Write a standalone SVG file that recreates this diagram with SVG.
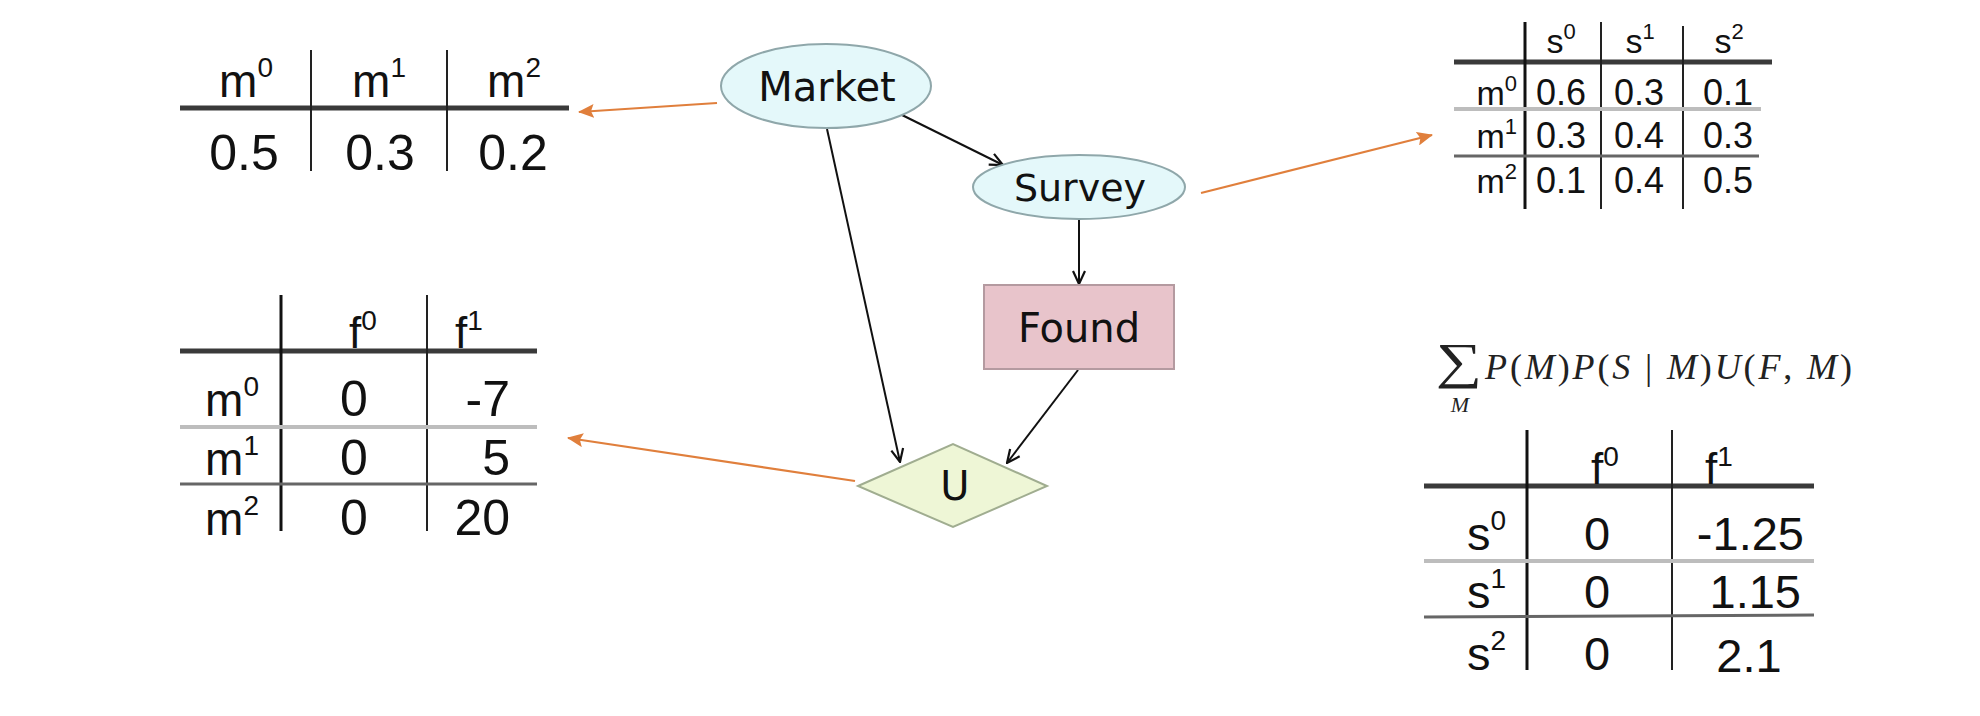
<svg xmlns="http://www.w3.org/2000/svg" width="1980" height="716" viewBox="0 0 1980 716">
<style>
.t{font-family:"Liberation Sans","DejaVu Sans",sans-serif;fill:#111}
.lbl{font-family:"DejaVu Sans","Liberation Sans",sans-serif;fill:#111}
.m{font-family:"Liberation Serif","DejaVu Serif",serif;fill:#222}
.it{font-style:italic}
.thick{stroke:#3a3a3a;stroke-width:5}
.vb{stroke:#111;stroke-width:3}
.vt{stroke:#222;stroke-width:2}
.lg{stroke:#bdbdbd;stroke-width:4}
.dg{stroke:#666;stroke-width:3}
.edge{stroke:#111;stroke-width:2;fill:none;marker-end:url(#open)}
.link{stroke:#e07f3c;stroke-width:2.2;fill:none;marker-end:url(#tri)}
</style>
<defs>
<marker id="open" markerUnits="userSpaceOnUse" markerWidth="16" markerHeight="16" viewBox="0 0 16 16" refX="15" refY="8" orient="auto">
<path d="M2,2 L15,8 L2,14" fill="none" stroke="#111" stroke-width="2.2"/>
</marker>
<marker id="tri" markerUnits="userSpaceOnUse" markerWidth="16" markerHeight="14" viewBox="0 0 16 14" refX="15" refY="7" orient="auto">
<path d="M0,0 L16,7 L0,14 L3,7 z" fill="#e07f3c"/>
</marker>
</defs>
<rect width="1980" height="716" fill="#fff"/>

<g id="table-market">
<line class="thick" x1="180" y1="108" x2="569" y2="108" stroke-width="4"/>
<line class="vt" x1="311" y1="50" x2="311" y2="171"/>
<line class="vt" x1="447" y1="50" x2="447" y2="171"/>
<g class="t" font-size="46" text-anchor="middle">
<text x="246" y="97">m<tspan dy="-20" font-size="28">0</tspan></text>
<text x="379" y="97">m<tspan dy="-20" font-size="28">1</tspan></text>
<text x="514" y="97">m<tspan dy="-20" font-size="28">2</tspan></text>
</g>
<g class="t" font-size="50" text-anchor="middle">
<text x="244" y="170">0.5</text>
<text x="380" y="170">0.3</text>
<text x="513" y="170">0.2</text>
</g>
</g>

<g id="table-utility">
<line class="thick" x1="180" y1="351" x2="537" y2="351"/>
<line class="vb" x1="281" y1="295" x2="281" y2="531"/>
<line class="vt" x1="427" y1="295" x2="427" y2="531"/>
<line class="lg" x1="180" y1="427" x2="537" y2="427"/>
<line class="dg" x1="180" y1="484" x2="537" y2="484"/>
<g class="t" font-size="44">
<text x="363" y="348" text-anchor="middle">f<tspan dy="-18" font-size="28">0</tspan></text>
<text x="455" y="348">f<tspan dy="-18" font-size="28">1</tspan></text>
</g>
<g class="t" font-size="46" text-anchor="end">
<text x="259" y="416">m<tspan dy="-20" font-size="28">0</tspan></text>
<text x="259" y="475">m<tspan dy="-20" font-size="28">1</tspan></text>
<text x="259" y="535">m<tspan dy="-20" font-size="28">2</tspan></text>
</g>
<g class="t" font-size="50">
<text x="354" y="416" text-anchor="middle">0</text>
<text x="354" y="475" text-anchor="middle">0</text>
<text x="354" y="535" text-anchor="middle">0</text>
<text x="510" y="416" text-anchor="end">-7</text>
<text x="510" y="475" text-anchor="end">5</text>
<text x="510" y="535" text-anchor="end">20</text>
</g>
</g>

<g id="table-survey">
<line class="thick" x1="1454" y1="62" x2="1772" y2="62" stroke-width="4"/>
<line class="vb" x1="1525" y1="22" x2="1525" y2="209"/>
<line class="vt" x1="1601" y1="22" x2="1601" y2="209"/>
<line class="vt" x1="1683" y1="26" x2="1683" y2="209"/>
<line class="lg" x1="1454" y1="109" x2="1761" y2="109" stroke-width="3"/>
<line class="dg" x1="1454" y1="156" x2="1759" y2="156"/>
<g class="t" font-size="34" text-anchor="middle">
<text x="1561" y="53">s<tspan dy="-14" font-size="22">0</tspan></text>
<text x="1640" y="53">s<tspan dy="-14" font-size="22">1</tspan></text>
<text x="1729" y="53">s<tspan dy="-14" font-size="22">2</tspan></text>
</g>
<g class="t" font-size="34" text-anchor="end">
<text x="1517" y="105">m<tspan dy="-14" font-size="22">0</tspan></text>
<text x="1517" y="148">m<tspan dy="-14" font-size="22">1</tspan></text>
<text x="1517" y="193">m<tspan dy="-14" font-size="22">2</tspan></text>
</g>
<g class="t" font-size="36" text-anchor="middle">
<text x="1561" y="105">0.6</text><text x="1639" y="105">0.3</text><text x="1728" y="105">0.1</text>
<text x="1561" y="148">0.3</text><text x="1639" y="148">0.4</text><text x="1728" y="148">0.3</text>
<text x="1561" y="193">0.1</text><text x="1639" y="193">0.4</text><text x="1728" y="193">0.5</text>
</g>
</g>

<g id="formula">
<text class="m" transform="translate(1459,378) scale(1.3,1)" font-size="50" text-anchor="middle">∑</text>
<text class="m it" x="1460" y="412" font-size="22" text-anchor="middle">M</text>
<text class="m" x="1485" y="379" font-size="36" textLength="367" lengthAdjust="spacing"><tspan class="it">P</tspan>(<tspan class="it">M</tspan>)<tspan class="it">P</tspan>(<tspan class="it">S</tspan> | <tspan class="it">M</tspan>)<tspan class="it">U</tspan>(<tspan class="it">F</tspan>, <tspan class="it">M</tspan>)</text>
</g>

<g id="table-decision">
<line class="thick" x1="1424" y1="486" x2="1814" y2="486"/>
<line class="vb" x1="1527" y1="430" x2="1527" y2="670"/>
<line class="vt" x1="1672" y1="430" x2="1672" y2="670"/>
<line class="lg" x1="1424" y1="561" x2="1814" y2="561" stroke-width="3"/>
<line class="dg" x1="1424" y1="617" x2="1814" y2="615"/>
<g class="t" font-size="44">
<text x="1605" y="484" text-anchor="middle">f<tspan dy="-18" font-size="28">0</tspan></text>
<text x="1705" y="484">f<tspan dy="-18" font-size="28">1</tspan></text>
</g>
<g class="t" font-size="47" text-anchor="end">
<text x="1506" y="550">s<tspan dy="-20" font-size="28">0</tspan></text>
<text x="1506" y="608">s<tspan dy="-20" font-size="28">1</tspan></text>
<text x="1506" y="670">s<tspan dy="-20" font-size="28">2</tspan></text>
</g>
<g class="t" font-size="47">
<text x="1597" y="550" text-anchor="middle">0</text>
<text x="1597" y="608" text-anchor="middle">0</text>
<text x="1597" y="670" text-anchor="middle">0</text>
<text x="1804" y="550" text-anchor="end">-1.25</text>
<text x="1801" y="608" text-anchor="end">1.15</text>
<text x="1749" y="672" text-anchor="middle">2.1</text>
</g>
</g>

<g id="connectors">
<line class="edge" x1="902" y1="115" x2="1003" y2="165"/>
<line class="edge" x1="827" y1="129" x2="900" y2="462"/>
<line class="edge" x1="1079" y1="219" x2="1079" y2="284"/>
<line class="edge" x1="1078" y1="370" x2="1007" y2="463"/>
<line class="link" x1="717" y1="103" x2="579" y2="112"/>
<line class="link" x1="1201" y1="193" x2="1432" y2="135"/>
<line class="link" x1="855" y1="481" x2="568" y2="438"/>
</g>

<g id="node-market">
<ellipse cx="826" cy="86" rx="105" ry="42" fill="#e4f8fa" stroke="#8fa7aa" stroke-width="2"/>
<text class="lbl" x="827" y="101" font-size="40" text-anchor="middle">Market</text>
</g>
<g id="node-survey">
<ellipse cx="1079" cy="187" rx="106" ry="32" fill="#e4f8fa" stroke="#8fa7aa" stroke-width="2"/>
<text class="lbl" x="1080" y="201" font-size="38" text-anchor="middle">Survey</text>
</g>
<g id="node-found">
<rect x="984" y="285" width="190" height="84" fill="#e8c4cb" stroke="#b49aa0" stroke-width="2"/>
<text class="lbl" x="1079" y="342" font-size="40" text-anchor="middle">Found</text>
</g>
<g id="node-u">
<polygon points="858,486 953,444 1047,486 953,527" fill="#eef6d6" stroke="#a0ad90" stroke-width="2"/>
<text class="lbl" x="955" y="500" font-size="40" text-anchor="middle">U</text>
</g>
</svg>
